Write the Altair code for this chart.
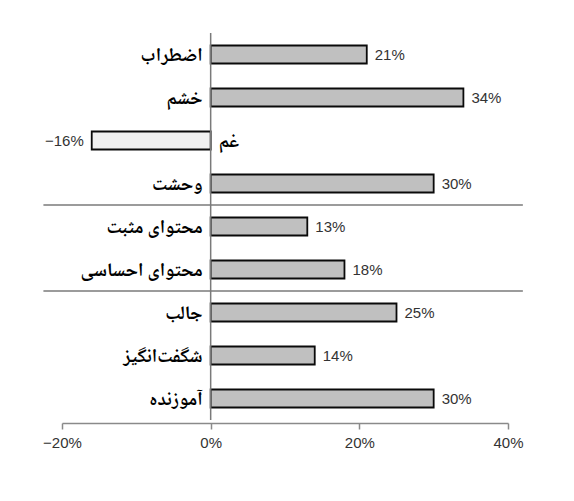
import altair as alt
import pandas as pd

# ===========================
# DATA
# ===========================
categories = ['اضطراب', 'خشم', 'غم', 'وحشت',
              'محتوای مثبت', 'محتوای احساسی',
              'جالب', 'شگفت‌انگیز', 'آموزنده']
values = [21, 34, -16, 30, 13, 18, 25, 14, 30]
x_ticks = [-20, 0, 20, 40]
group_ends = ['وحشت', 'محتوای احساسی']  # separators drawn below these rows

df = pd.DataFrame({'cat': categories, 'value': values})
df['label'] = [('−' + str(abs(v)) if v < 0 else str(v)) + '%' for v in values]

sep = pd.DataFrame({'cat': group_ends, 'x': [-22.5] * 2, 'x2': [42] * 2})
zero = pd.DataFrame({'x': [0]})

FA_FONT = 'Noto Naskh Arabic, Noto Sans Arabic, DejaVu Sans'
NUM_FONT = 'Liberation Sans'

y_scale = alt.Scale(domain=categories, paddingInner=0, paddingOuter=0)
x_scale = alt.Scale(domain=[-20, 40], nice=False)

y_enc = alt.Y('cat:N', scale=y_scale, axis=None)

# barras
bars = alt.Chart(df).mark_bar(size=18, stroke='#0a0a0a', strokeWidth=1.8).encode(
    x=alt.X(
        'value:Q',
        scale=x_scale,
        title=None,
        axis=alt.Axis(
            values=x_ticks,
            grid=False,
            domainColor='#8a8a8a',
            domainWidth=1.5,
            tickColor='#8a8a8a',
            tickWidth=1.5,
            tickSize=6,
            labelFontSize=15,
            labelColor='#333333',
            labelFont=NUM_FONT,
            labelFlush=False,
            labelPadding=6,
            offset=3,
            labelExpr="(datum.value < 0 ? '−' + abs(datum.value) : datum.value) + '%'",
        ),
    ),
    y=y_enc,
    color=alt.when(alt.datum.value < 0).then(alt.value('#f0f0f0')).otherwise(alt.value('#c0c0c0')),
)

# linha do zero
zero_line = alt.Chart(zero).mark_rule(color='#7a7a7a', strokeWidth=1.5).encode(
    x=alt.X('x:Q', scale=x_scale)
)

# linhas separadoras entre grupos
separators = alt.Chart(sep).mark_rule(color='#7a7a7a', strokeWidth=1.3).encode(
    x=alt.X('x:Q', scale=x_scale),
    x2='x2',
    y=alt.Y('cat:N', scale=y_scale, axis=None, bandPosition=1),
)

pos = alt.datum.value >= 0
neg = alt.datum.value < 0

# rotulos de valor
val_pos = alt.Chart(df).transform_filter(pos).mark_text(
    align='left', dx=8, fontSize=15, font=NUM_FONT, color='#333333'
).encode(x=alt.X('value:Q', scale=x_scale), y=y_enc, text='label:N')

val_neg = alt.Chart(df).transform_filter(neg).mark_text(
    align='right', dx=-8, fontSize=15, font=NUM_FONT, color='#333333'
).encode(x=alt.X('value:Q', scale=x_scale), y=y_enc, text='label:N')

# rotulos de categoria
cat_pos = alt.Chart(df).transform_filter(pos).mark_text(
    align='right', dx=-8, fontSize=19, fontWeight='bold', font=FA_FONT, color='#000000'
).encode(x=alt.datum(0, scale=x_scale), y=y_enc, text='cat:N')

cat_neg = alt.Chart(df).transform_filter(neg).mark_text(
    align='left', dx=8, fontSize=19, fontWeight='bold', font=FA_FONT, color='#000000'
).encode(x=alt.datum(0, scale=x_scale), y=y_enc, text='cat:N')

chart = alt.layer(
    separators, bars, zero_line, val_pos, val_neg, cat_pos, cat_neg
).properties(
    width=446,
    height=387,
    autosize=alt.AutoSizeParams(type='none'),
    padding={'left': 54, 'top': 25, 'right': 40, 'bottom': 60},
).configure_view(stroke=None)

chart.save("out.html", embed_options={"renderer": "svg", "actions": False})
